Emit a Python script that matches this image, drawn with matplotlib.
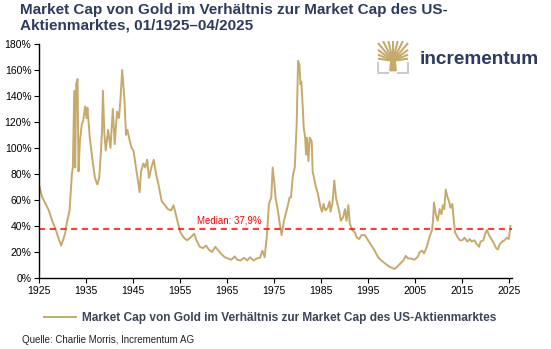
import numpy as np
import matplotlib
matplotlib.use("Agg")
import matplotlib.pyplot as plt
from matplotlib.patches import Polygon

plt.rcParams['font.family'] = ['Liberation Sans', 'DejaVu Sans']

# ratio gold market cap / US stock market cap, in percent
years = [1925.0, 1925.35, 1925.7, 1926.0, 1926.4, 1927.1, 1927.8, 1928.5, 1929.2, 1929.7,
         1930.2, 1930.6, 1930.9, 1931.5, 1932.0, 1932.2, 1932.5, 1932.7, 1932.9, 1933.2,
         1933.4, 1933.7, 1934.1, 1934.4, 1934.8, 1935.1, 1935.3, 1935.8, 1936.4, 1936.9,
         1937.4, 1937.8, 1938.1, 1938.4, 1938.6, 1938.9, 1939.2, 1939.7, 1940.2, 1940.7,
         1941.1, 1941.6, 1942.0, 1942.3, 1942.7, 1943.2, 1943.5, 1943.8, 1944.2, 1944.7,
         1945.1, 1945.5, 1946.0, 1946.4, 1946.7, 1947.2, 1947.6, 1948.0, 1948.4, 1948.9,
         1949.4, 1949.9, 1950.4, 1951.1, 1951.8, 1952.4, 1953.1, 1953.6, 1954.1, 1954.7,
         1955.1, 1955.8, 1956.5, 1957.2, 1958.0, 1958.5, 1959.2, 1959.9, 1960.5, 1961.1,
         1961.8, 1962.5, 1963.2, 1963.9, 1964.5, 1965.2, 1965.9, 1966.6, 1967.2, 1967.9,
         1968.6, 1969.3, 1969.9, 1970.6, 1971.3, 1972.0, 1972.5, 1973.0, 1973.5, 1973.9,
         1974.4, 1974.7, 1975.0, 1975.3, 1975.8, 1976.2, 1976.6, 1977.1, 1977.8, 1978.3,
         1978.6, 1979.0, 1979.4, 1979.8, 1980.1, 1980.4, 1980.6, 1980.8, 1981.1, 1981.3,
         1981.6, 1981.8, 1982.0, 1982.3, 1982.6, 1983.0, 1983.2, 1983.5, 1983.9, 1984.3,
         1984.9, 1985.2, 1985.5, 1985.9, 1986.4, 1986.8, 1987.0, 1987.4, 1987.8, 1988.2,
         1988.8, 1989.2, 1989.7, 1990.1, 1990.4, 1990.8, 1991.1, 1991.6, 1992.2, 1992.6,
         1993.1, 1993.6, 1994.3, 1995.0, 1995.7, 1996.4, 1997.1, 1997.8, 1998.5, 1999.2,
         1999.6, 2000.1, 2000.6, 2001.1, 2001.8, 2002.5, 2003.0, 2003.5, 2004.1, 2004.8,
         2005.5, 2006.0, 2006.5, 2006.9, 2007.5, 2008.0, 2008.3, 2008.6, 2008.8, 2009.0,
         2009.4, 2009.8, 2010.2, 2010.6, 2010.9, 2011.2, 2011.5, 2011.9, 2012.2, 2012.5,
         2012.9, 2013.2, 2013.5, 2014.1, 2014.5, 2015.0, 2015.5, 2016.1, 2016.6, 2017.0,
         2017.6, 2018.1, 2018.6, 2018.9, 2019.5, 2019.9, 2020.3, 2020.7, 2021.2, 2021.7,
         2022.2, 2022.6, 2023.0, 2023.5, 2024.0, 2024.5, 2024.9, 2025.1, 2025.25]
ratio = [72, 67, 62, 60, 57, 52, 44, 38, 30, 25,
         30, 35, 42, 52, 80, 85, 144, 85, 149, 153,
         82, 105, 118, 121, 132, 123, 131, 108, 90, 77,
         72, 77, 93, 113, 144, 111, 98, 114, 100, 130,
         103, 128, 123, 136, 160, 136, 110, 114, 107, 100,
         98, 88, 75, 66, 82, 88, 85, 91, 77, 85,
         91, 80, 72, 59, 56, 53, 52, 56, 49, 40,
         35, 31, 29, 31, 34, 29, 24, 23, 25, 22,
         20, 24, 21, 18, 16, 15, 14, 16.6, 14, 13.5,
         15.6, 13.5, 16, 13.5, 15, 15.6, 21, 16, 34, 57,
         62, 85, 75, 62, 52, 42, 33, 44, 54, 62,
         62, 79, 85, 118, 167, 164, 149, 151, 131, 116,
         108, 95, 108, 90, 108, 105, 82, 77, 70, 65,
         54, 51, 57, 52, 54, 59, 51, 57, 75, 61,
         52, 44, 47, 53, 44, 56, 42, 37, 35, 31,
         30, 33, 33, 29, 25, 21, 16, 13.5, 11.5, 9.5,
         8.5, 7.7, 7, 8.4, 11, 13.5, 17, 15, 15, 14,
         16, 20, 21, 19, 24, 31, 34, 37, 44, 58,
         49, 44, 53, 49, 56, 53, 68, 62, 59, 54,
         57, 45, 35, 31, 29, 29, 31, 28, 30, 28,
         29, 26, 24, 28, 29, 34, 37, 33, 30, 27,
         23, 22, 26, 28, 29, 31, 30, 35, 40]
median = 37.9

x_ticks = list(range(1925, 2026, 10))
y_ticks = list(range(0, 181, 20))

title = "Market Cap von Gold im Verhältnis zur Market Cap des US-\nAktienmarktes, 01/1925–04/2025"
series_label = "Market Cap von Gold im Verhältnis zur Market Cap des US-Aktienmarktes"
source = "Quelle: Charlie Morris, Incrementum AG"

gold = '#C6AA6C'
navy = '#2D3B5E'

fig = plt.figure(figsize=(5.51, 3.49), dpi=100)
ax = fig.add_axes([39/551, 1 - 278/349, 473/551, 234/349])

line, = ax.plot(years, ratio, color=gold, lw=1.4, label=series_label)
ax.axhline(median, color='#FF0000', lw=1.1, ls=(0, (4, 3)))
ax.text(1958.7, median + 2.5, "Median: 37,9%", color='#FF0000', fontsize=7, va='bottom', ha='left')

ax.set_xlim(1925, 2025.6)
ax.set_ylim(0, 180)
ax.set_xticks(x_ticks)
ax.set_yticks(y_ticks)
ax.set_yticklabels([f"{v}%" for v in y_ticks])
ax.tick_params(axis='both', labelsize=7.5, direction='out', length=3.5, width=0.8, pad=2, colors='black')
for s in ['top', 'right']:
    ax.spines[s].set_visible(False)
for s in ['left', 'bottom']:
    ax.spines[s].set_linewidth(1.0)

fig.text(20/551, 1 - 3/349, title, fontsize=11.0, fontweight='bold', color=navy,
         va='top', ha='left', linespacing=1.15)

fig.legend(handles=[line], loc='center', bbox_to_anchor=(270/551, 1 - 318/349), frameon=False,
           prop={'size': 8.6, 'weight': 'bold'}, handlelength=2.7, handletextpad=0.45,
           labelcolor='#3C4658')

fig.text(22/551, 1 - 340/349, source, fontsize=7, color='#222222', va='center', ha='left')

# logo: square tree crown + trunk + grey brackets
lax = fig.add_axes([377/551, 1 - 74/349, 32/551, 33/349])
lax.set_xlim(0, 1)
lax.set_ylim(0, 1)
lax.axis('off')
lax.add_patch(Polygon([[0.40, 0.10], [0.60, 0.10], [0.56, 0.50], [0.44, 0.50]], closed=True, color=gold))
ox, oy = 0.5, 0.40
for ang in np.linspace(8, 172, 13):
    dx, dy = np.cos(np.radians(ang)), np.sin(np.radians(ang))
    t_top = (1.0 - oy) / dy
    t_side = (0.97 - ox) / abs(dx) if abs(dx) > 1e-6 else 9
    t = min(t_top, t_side)
    lax.plot([ox, ox + t * dx], [oy, oy + t * dy], color=gold, lw=1.5, solid_capstyle='butt')
lax.plot([0.04, 0.04, 0.33], [0.32, 0.04, 0.04], color='#CBCBCB', lw=1.5)
lax.plot([0.96, 0.96, 0.67], [0.32, 0.04, 0.04], color='#CBCBCB', lw=1.5)

fig.text(420/551, 1 - 59/349, "incrementum", fontsize=13.7, fontweight='bold', color=navy,
         va='center', ha='left')

fig.savefig('out.png', dpi=100)
